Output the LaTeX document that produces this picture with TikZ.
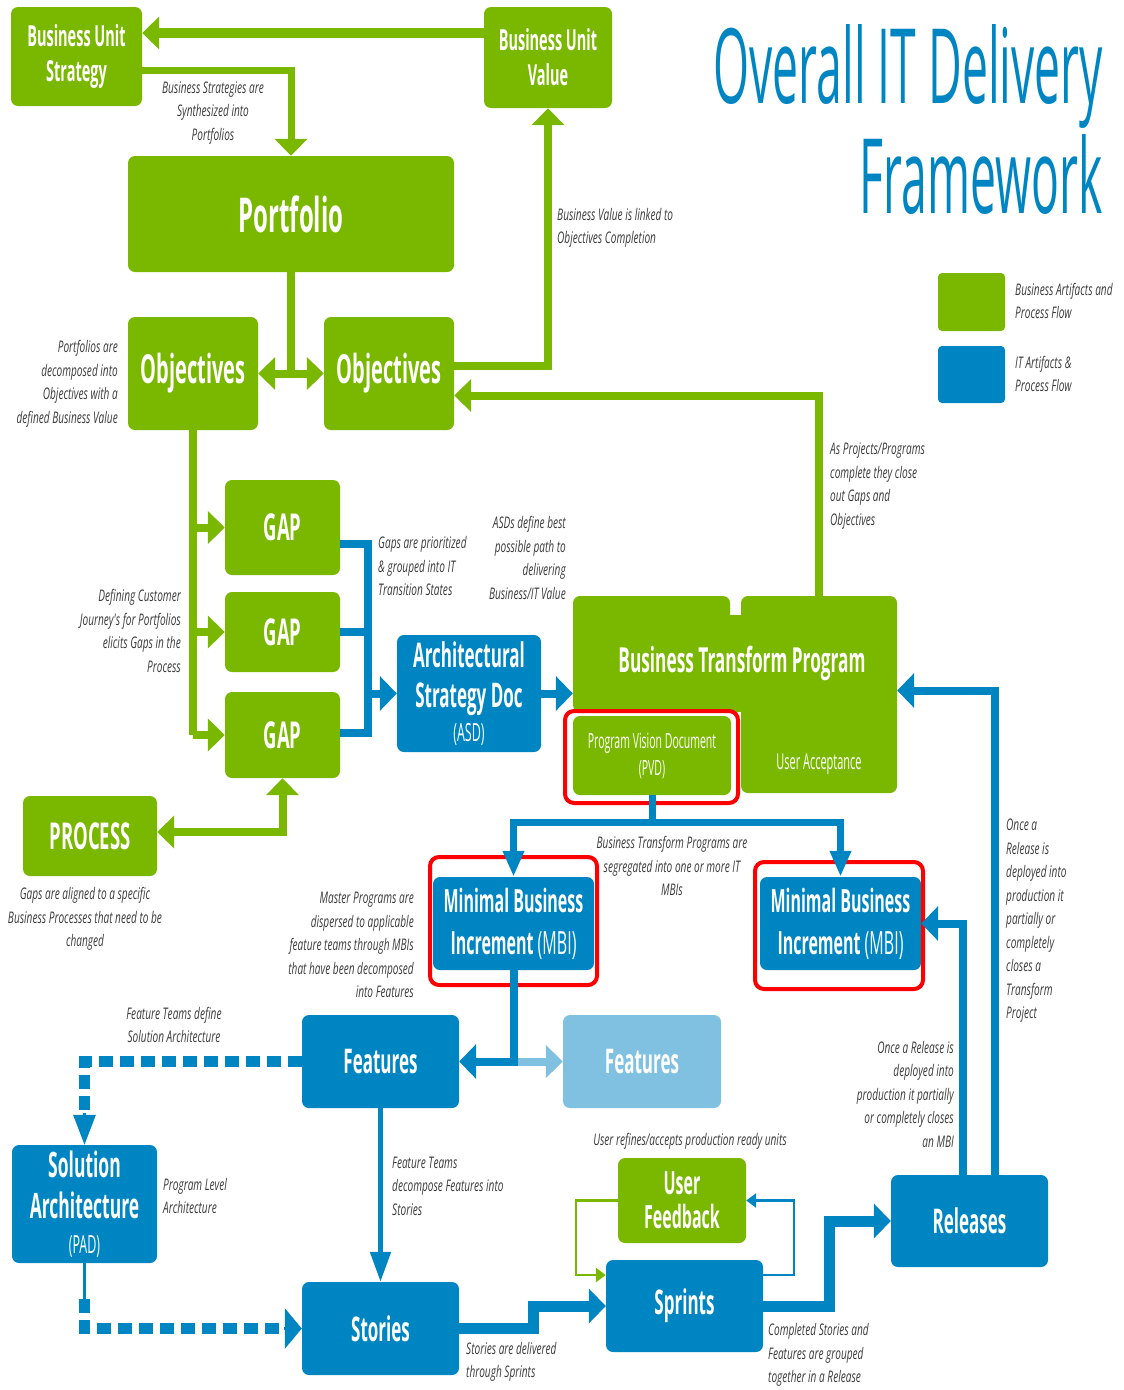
\documentclass[tikz,border=0pt]{standalone}
\usepackage{fontspec}
\setmainfont{Open Sans}
\newfontfamily\bxf[FakeStretch=0.5]{Open Sans}
\newfontfamily\itf[FakeStretch=0.63]{Open Sans}
\newfontfamily\ttlf[FakeStretch=0.445]{Open Sans}
\usetikzlibrary{arrows.meta,calc}
\definecolor{dgreen}{HTML}{7AB800}
\definecolor{dblue}{HTML}{0085C3}
\definecolor{lblue}{HTML}{80C1E1}
\definecolor{dred}{HTML}{FF0000}
\definecolor{ngray}{HTML}{3A3A3A}
\begin{document}
\begin{tikzpicture}[x=1pt,y=-1pt,
  box/.style={rounded corners=7pt, inner sep=0pt, align=center, text=white},
  gbox/.style={box, fill=dgreen},
  bbox/.style={box, fill=dblue},
  sz/.style 2 args={font=\bxf\bfseries\fontsize{#1}{#2}\selectfont},
  note/.style={font=\itf\itshape\fontsize{16}{23.5}\selectfont, text=ngray, inner sep=0pt},
  redb/.style={draw=dred, line width=4pt, rounded corners=9pt},
  gline/.style={draw=dgreen, line width=8pt},
  garr/.style={gline, -{Triangle[length=17pt,width=32pt]}},
  gdbl/.style={gline, {Triangle[length=17pt,width=32pt]}-{Triangle[length=17pt,width=32pt]}},
  gthin/.style={draw=dgreen, line width=2.5pt, -{Triangle[length=10pt,width=14pt]}},
  bline/.style={draw=dblue, line width=8pt},
  barr/.style={bline, -{Triangle[length=17pt,width=34pt]}},
  bnarrow/.style={bline, line width=7pt, -{Triangle[length=26pt,width=20pt]}},
  bthinarr/.style={draw=dblue, line width=5pt, -{Triangle[length=30pt,width=20pt]}},
  bthin/.style={draw=dblue, line width=2.5pt, -{Triangle[length=10pt,width=14pt]}},
  bdash/.style={draw=dblue, line width=11pt, dash pattern=on 14pt off 7pt},
  lbarr/.style={draw=lblue, line width=8pt, -{Triangle[length=17pt,width=32pt]}}
]
\useasboundingbox (0,0) rectangle (1124,1390);

% ---------- title ----------
\node[anchor=base east, inner sep=0pt, text=dblue, font=\ttlf\fontsize{104}{110}\selectfont] (title1) at (1103,103) {Overall IT Delivery};
\node[anchor=base east, inner sep=0pt, text=dblue, font=\ttlf\fontsize{104}{110}\selectfont] (title2) at (1103,213) {Framework};

% ---------- legend ----------
\node[gbox, rounded corners=4pt, minimum width=67pt, minimum height=58pt] (leg1) at (971.5,302) {};
\node[bbox, rounded corners=4pt, minimum width=67pt, minimum height=57pt] (leg2) at (971.5,374.5) {};
\node[note, anchor=west, align=left] (leg1t) at (1015,301) {Business Artifacts and\\Process Flow};
\node[note, anchor=west, align=left] (leg2t) at (1015,374) {IT Artifacts \&\\Process Flow};

% ---------- green boxes ----------
\node[gbox, sz={29}{35}, minimum width=131pt, minimum height=99pt] (bus) at (76.5,56.5) {Business Unit\\Strategy};
\node[gbox, sz={29}{35}, minimum width=128pt, minimum height=101pt] (buv) at (548,57.5) {Business Unit\\Value};
\node[gbox, sz={48}{50}, minimum width=326pt, minimum height=116pt] (portfolio) at (291,214) {Portfolio};
\node[gbox, sz={40}{44}, minimum width=130pt, minimum height=113pt] (obj1) at (193,373.5) {Objectives};
\node[gbox, sz={40}{44}, minimum width=130pt, minimum height=113pt] (obj2) at (389,373.5) {Objectives};
\node[gbox, sz={37}{40}, minimum width=115pt, minimum height=95pt] (gap1) at (282.5,527.5) {GAP};
\node[gbox, sz={37}{40}, minimum width=115pt, minimum height=80pt] (gap2) at (282.5,632) {GAP};
\node[gbox, sz={37}{40}, minimum width=115pt, minimum height=86pt] (gap3) at (282.5,735) {GAP};
\node[gbox, sz={37}{40}, minimum width=134pt, minimum height=80pt] (process) at (90,836) {PROCESS};

% Business Transform Program
\node[gbox, minimum width=157pt, minimum height=116pt] (btpL) at (651.5,654) {};
\node[gbox, minimum width=156pt, minimum height=197pt] (btpR) at (819,694.5) {};
\fill[dgreen] (720,615) rectangle (750,712);
\node[text=white, sz={34.5}{38}, inner sep=0pt] (btp) at (742,663) {Business Transform Program};
\node[text=white, font=\bxf\fontsize{22}{26}\selectfont, inner sep=0pt] (ua) at (819,764) {User Acceptance};
\node[gbox, font=\bxf\fontsize{21}{27}\selectfont, minimum width=158pt, minimum height=79pt] (pvd) at (652,755.5) {Program Vision Document\\(PVD)};
\draw[redb] (565,711) rectangle (738,803);

% ---------- blue boxes ----------
\node[bbox, sz={34}{40}, minimum width=144pt, minimum height=117pt] (asd) at (469,693.5)
  {Architectural\\Strategy Doc\\[-6pt]{\mdseries\fontsize{25}{28}\selectfont (ASD)}};
\node[bbox, sz={32}{42}, minimum width=161pt, minimum height=93pt] (mbi1) at (513.5,923.5) {Minimal Business\\Increment {\mdseries(MBI)}};
\node[bbox, sz={32}{42}, minimum width=161pt, minimum height=93pt] (mbi2) at (840.5,923.5) {Minimal Business\\Increment {\mdseries(MBI)}};
\draw[redb] (430,857) rectangle (597,985);
\draw[redb] (755,862) rectangle (923,989);
\node[bbox, sz={34}{40}, minimum width=157pt, minimum height=93pt] (features) at (380.5,1061.5) {Features};
\node[box, fill=lblue, sz={34}{40}, minimum width=158pt, minimum height=93pt] (featl) at (642,1061.5) {Features};
\node[bbox, sz={35}{41}, minimum width=145pt, minimum height=118pt] (solarch) at (84.5,1204)
  {Solution\\Architecture\\[-6pt]{\mdseries\fontsize{25}{28}\selectfont (PAD)}};
\node[bbox, sz={34}{40}, minimum width=157pt, minimum height=93pt] (stories) at (380.5,1328.5) {Stories};
\node[gbox, sz={32}{34}, minimum width=128pt, minimum height=85pt] (uf) at (682,1200.5) {User\\Feedback};
\node[bbox, sz={34}{40}, minimum width=157pt, minimum height=92pt] (sprints) at (684.5,1306) {Sprints};
\node[bbox, sz={34}{40}, minimum width=157pt, minimum height=92pt] (releases) at (969.5,1221) {Releases};

% ---------- green connectors ----------
\draw[garr, line width=10pt] (buv.west |- 0,33) -- (bus.east |- 0,33);
\draw[garr, line width=7pt] ([yshift=-14pt]bus.east) -| (portfolio.north);
\draw[gline] (portfolio.south) -- (portfolio.south |- obj1.east);
\draw[gdbl] (obj1.east) -- (obj2.west);
\draw[garr] ([yshift=8pt]obj2.east) -| (buv.south);
\draw[garr] (btpR.north) |- ([yshift=-22pt]obj2.east);
\draw[gline] (obj1.south) -- (obj1.south |- gap3.west);
\draw[garr] (obj1.south |- gap1.west) -- (gap1.west);
\draw[garr] (obj1.south |- gap2.west) -- (gap2.west);
\draw[garr] (obj1.south |- gap3.west) -- (gap3.west);
\draw[gdbl] ([yshift=4pt]process.east) -| (gap3.south);

% ---------- blue connectors ----------
\coordinate (col) at (368,693.5);
\draw[bline] ([yshift=-16pt]gap1.east) -| (col);
\draw[bline] (gap2.east) -- (gap2.east -| col);
\draw[bline] ([yshift=2pt]gap3.east) -| (col);
\draw[barr] (col) -- (asd.west);
\draw[barr] (asd.east) -- (asd.east -| btpL.west);
\draw[bline, line width=7pt] (pvd.south) -- ++(0,27) coordinate (split);
\draw[bnarrow] (split) -| (mbi1.north);
\draw[bnarrow] (split) -| (mbi2.north);
\draw[lbarr] (mbi1.south |- features.east) -- (featl.west);
\draw[barr] (mbi1.south) |- (features.east);
\draw[bdash] (features.west) -| ([yshift=30pt]solarch.north);
\draw[bline, line width=3pt, -{Triangle[length=30pt,width=22pt]}] ([yshift=32pt]solarch.north) -- (solarch.north);
\draw[bline, line width=3pt] (solarch.south) -- ++(0,36) coordinate (sadash);
\draw[bdash] (sadash) |- ([xshift=-17pt]stories.west);
\draw[bline, line width=3pt, -{Triangle[length=17pt,width=40pt]}] ([xshift=-18pt]stories.west) -- (stories.west);
\draw[bthinarr] (features.south) -- (features.south |- stories.north);
\draw[barr, line width=11pt] (stories.east) -- ++(74,0) |- (sprints.west);
\draw[barr, line width=11pt] (sprints.east) -- ++(66,0) |- (releases.west);
\draw[barr] ([xshift=25pt]releases.north) |- ([yshift=4pt]btpR.east);
\draw[barr] ([xshift=-7pt]releases.north) |- (mbi2.east);
\draw[gthin] (uf.west) -- ++(-42,0) |- ([yshift=31pt]sprints.west);
\draw[bthin] ([yshift=31pt]sprints.east) -- ++(31,0) |- (uf.east);

% ---------- notes ----------
\node[note, align=center] (n1) at (213,113) {Business Strategies are\\Synthesized into\\Portfolios};
\node[note, anchor=west, align=left] (n2) at (557,228) {Business Value is linked to\\Objectives Completion};
\node[note, anchor=east, align=right] (n3) at (118,384) {Portfolios are\\decomposed into\\Objectives with a\\defined Business Value};
\node[note, anchor=west, align=left] (n4) at (830,486) {As Projects/Programs\\complete they close\\out Gaps and\\Objectives};
\node[note, anchor=east, align=right] (n5) at (181,631) {Defining Customer\\Journey's for Portfolios\\elicits Gaps in the\\Process};
\node[note, anchor=west, align=left] (n6) at (378,566) {Gaps are prioritized\\\& grouped into IT\\Transition States};
\node[note, anchor=east, align=right] (n7) at (566,558) {ASDs define best\\possible path to\\delivering\\Business/IT Value};
\node[note, align=center] (n8) at (85,919) {Gaps are aligned to a specific\\Business Processes that need to be\\changed};
\node[note, align=center] (n9) at (672,866) {Business Transform Programs are\\segregated into one or more IT\\MBIs};
\node[note, anchor=east, align=right] (n10) at (414,945) {Master Programs are\\dispersed to applicable\\feature teams through MBIs\\that have been decomposed\\into Features};
\node[note, anchor=west, align=left] (n11) at (1006,921) {Once a\\Release is\\deployed into\\production it\\partially or\\completely\\closes a\\Transform\\Project};
\node[note, anchor=east, align=right] (n12) at (954,1094) {Once a Release is\\deployed into\\production it partially\\or completely closes\\an MBI};
\node[note, align=center] (n13) at (174,1025) {Feature Teams define\\Solution Architecture};
\node[note, anchor=west, align=left] (n14) at (392,1186) {Feature Teams\\decompose Features into\\Stories};
\node[note, align=center] (n15) at (690,1141) {User refines/accepts production ready units};
\node[note, anchor=west, align=left] (n16) at (163,1196) {Program Level\\Architecture};
\node[note, anchor=west, align=left] (n17) at (466,1362) {Stories are delivered\\through Sprints};
\node[note, anchor=west, align=left] (n18) at (768,1355) {Completed Stories and\\Features are grouped\\together in a Release};
\end{tikzpicture}
\end{document}
